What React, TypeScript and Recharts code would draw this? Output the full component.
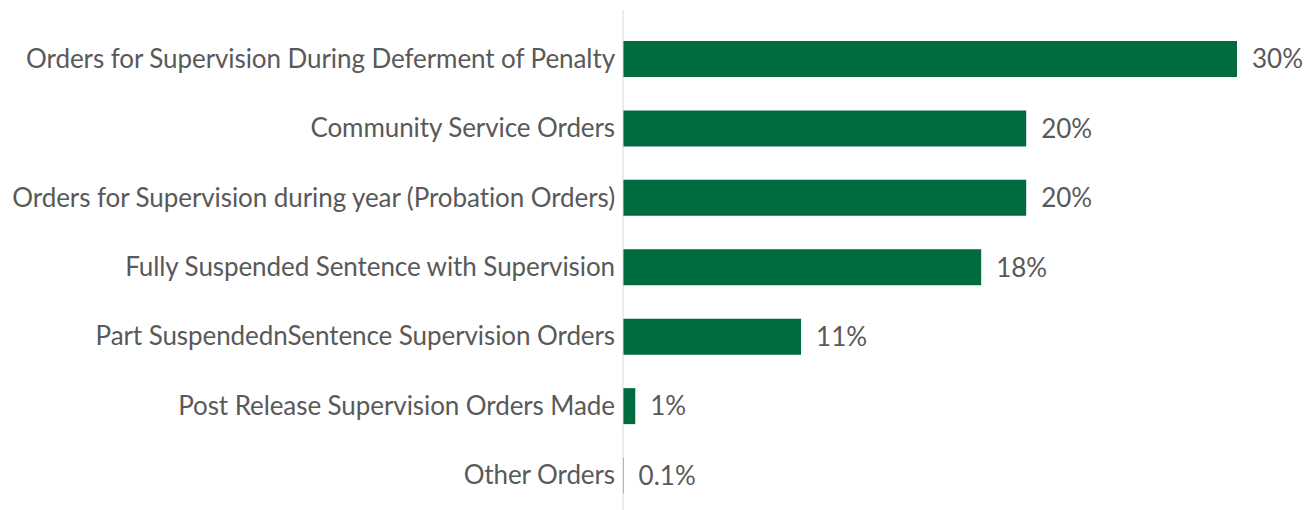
import React from 'react';
import { BarChart, Bar, XAxis, YAxis, LabelList } from 'recharts';

const categories = [
  'Orders for Supervision During Deferment of Penalty',
  'Community Service Orders',
  'Orders for Supervision during year (Probation Orders)',
  'Fully Suspended Sentence with Supervision',
  'Part SuspendednSentence Supervision Orders',
  'Post Release Supervision Orders Made',
  'Other Orders',
];
const values = [30, 19.7, 19.7, 17.5, 8.7, 0.6, 0.03];
const valueLabels = ['30%', '20%', '20%', '18%', '11%', '1%', '0.1%'];

const data = categories.map((name, i) => ({ name, value: values[i], label: valueLabels[i] }));

const FONT = 'Lato, "Open Sans", sans-serif';
const TEXT = '#595959';

const CatTick = (props: any) => {
  const { x, y, payload } = props;
  return (
    <text x={x} y={y} dy={9} textAnchor="end" fill={TEXT} fontSize={26} fontFamily={FONT} letterSpacing={-0.08}>
      {payload.value}
    </text>
  );
};

export default function App() {
  return (
    <div style={{ position: 'absolute', left: 0, top: 0, width: 1308, height: 510, background: '#fff' }}>
      <BarChart
        width={1308}
        height={510}
        data={data}
        layout="vertical"
        margin={{ top: 10, right: 71, bottom: 0, left: 0 }}
      >
        <XAxis type="number" domain={[0, 30]} hide />
        <YAxis
          type="category"
          dataKey="name"
          width={623}
          tickLine={false}
          axisLine={{ stroke: '#d9d9d9', strokeWidth: 1 }}
          tick={<CatTick />}
          padding={{ top: 14, bottom: 0 }}
          interval={0}
        />
        <Bar dataKey="value" fill="#006b3f" barSize={36} isAnimationActive={false}>
          <LabelList
            dataKey="label"
            position="right"
            offset={15}
            fill={TEXT}
            fontSize={26}
            fontFamily={FONT}
          />
        </Bar>
      </BarChart>
    </div>
  );
}
